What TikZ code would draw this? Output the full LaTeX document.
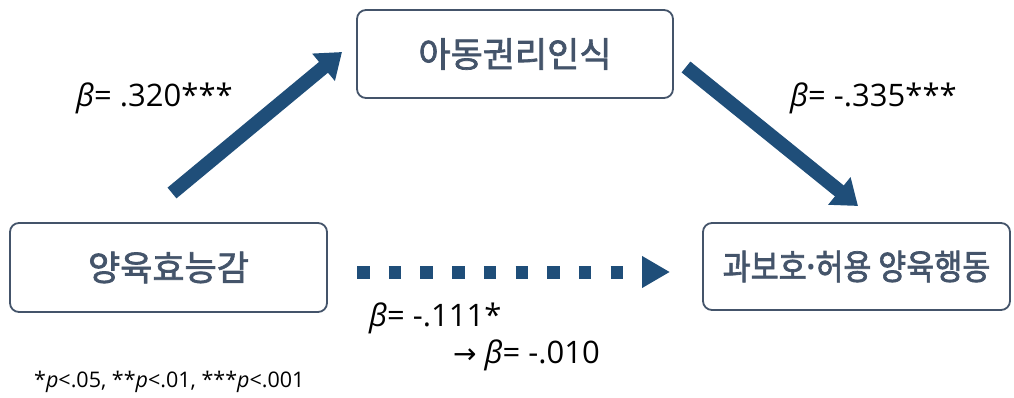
\documentclass[tikz,border=0pt]{standalone}
\usepackage{fontspec}
\setmainfont{Open Sans}
\newfontfamily\kr[FakeBold=2]{Noto Sans CJK KR}
\newfontfamily\dv{DejaVu Sans}
\usetikzlibrary{arrows.meta}
\definecolor{boxc}{HTML}{44546A}
\definecolor{arrc}{HTML}{1F4E79}
\tikzset{
  vbox/.style={draw=boxc, line width=1.8pt, rounded corners=9pt, text=boxc, font=\kr\fontsize{35}{38}\selectfont, inner sep=0pt},
  bigarrow/.style={draw=arrc, line width=14pt, -{Triangle[width=34pt,length=24pt]}},
  lab/.style={font=\fontsize{31}{36}\selectfont, anchor=west, inner sep=0pt}
}
\begin{document}
\begin{tikzpicture}[x=1pt,y=-1pt]
\useasboundingbox (0,0) rectangle (1014,398);
\node[vbox, minimum width=316pt, minimum height=88pt] (m) at (515,54) {아동권리인식};
\node[vbox, minimum width=317pt, minimum height=89pt] (x) at (168.5,267.5) {양육효능감};
\node[vbox, minimum width=307pt, minimum height=87pt] (y) at (856.5,266.5) {\scalebox{0.87}[1]{과보호{\rmfamily\bfseries ·}허용 양육행동}};
\coordinate (a1s) at (172,193);
\coordinate (a1e) at (342,52);
\coordinate (a2s) at (686,67);
\coordinate (a2e) at (858,206);
\coordinate (a3s) at (357,272);
\coordinate (a3e) at (670,272);
\draw[bigarrow] (a1s) -- (a1e);
\draw[bigarrow] (a2s) -- (a2e);
\draw[draw=arrc, line width=13pt, dash pattern=on 12.5pt off 19.2pt, -{Triangle[width=30pt,length=28pt]}] (a3s) -- (a3e);
\node[lab] (l1) at (76,98) {{\itshape β}= .320***};
\node[lab] (l2) at (790,98) {{\itshape β}= -.335***};
\node[lab] (l3) at (369,318) {{\itshape β}= -.111*};
\node[lab] (l4) at (453,355) {{\dv\fontsize{28}{30}\selectfont →} {\itshape β}= -.010};
\node[font=\fontsize{21.5}{24}\selectfont, anchor=west, inner sep=0pt] (fn) at (34,382) {*{\itshape p}<.05, **{\itshape p}<.01, ***{\itshape p}<.001};
\end{tikzpicture}
\end{document}
